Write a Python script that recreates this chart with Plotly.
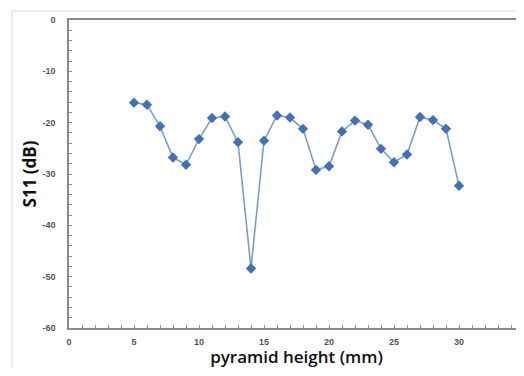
import plotly.graph_objects as go

heights = [5, 6, 7, 8, 9, 10, 11, 12, 13, 14, 15, 16, 17, 18, 19, 20, 21, 22, 23, 24, 25, 26, 27, 28, 29, 30]
s11 = [-16.1, -16.5, -20.7, -26.8, -28.2, -23.2, -19.1, -18.8, -23.8, -48.4, -23.5, -18.6, -19.0, -21.2,
       -29.2, -28.5, -21.7, -19.6, -20.4, -25.1, -27.7, -26.2, -18.9, -19.5, -21.2, -32.3]

x_ticks = [0, 5, 10, 15, 20, 25, 30, 35]
y_ticks = [0, -10, -20, -30, -40, -50, -60]

fig = go.Figure()
fig.add_trace(go.Scatter(
    x=heights, y=s11, mode="lines+markers",
    line=dict(color="#7d9dc7", width=1.6),
    marker=dict(symbol="diamond", size=8, color="#4072b6"),
    showlegend=False,
))

tickfont = dict(family="Liberation Sans", size=9, color="#555555", weight="bold")

fig.update_layout(
    width=516, height=360,
    margin=dict(l=61, r=0, t=12, b=40),
    paper_bgcolor="white", plot_bgcolor="white",
    xaxis=dict(
        range=[0, 35], tickvals=x_ticks, ticktext=[str(v) for v in x_ticks],
        showgrid=False, zeroline=False, automargin=False,
        showline=True, linecolor="#8a8a8a", linewidth=1.5, mirror=True,
        ticks="inside", ticklen=3, tickcolor="#8a8a8a",
        minor=dict(dtick=1, ticks="inside", ticklen=3, tickcolor="#8a8a8a", showgrid=False),
        tickfont=tickfont, ticklabelstandoff=4, ticklabeloverflow="allow",
        title=dict(text="pyramid height (mm)", standoff=12,
                   font=dict(family="Open Sans", size=17, color="#111111", weight=600)),
    ),
    yaxis=dict(
        range=[-60, 0], tickvals=y_ticks, ticktext=[str(v) for v in y_ticks],
        showgrid=False, zeroline=False, automargin=False,
        showline=True, linecolor="#8a8a8a", linewidth=1.5,
        ticks="inside", ticklen=3, tickcolor="#8a8a8a",
        minor=dict(dtick=2, ticks="inside", ticklen=3, tickcolor="#8a8a8a", showgrid=False),
        tickfont=tickfont, ticklabelstandoff=10,
        title=dict(text="S11 (dB)", standoff=1,
                   font=dict(family="Open Sans", size=17, color="#111111", weight=700)),
    ),
    shapes=[dict(type="rect", xref="paper", yref="paper",
                 x0=-0.1253, x1=0.9978, y0=-0.3, y1=1.0292,
                 line=dict(color="#d9d9d9", width=1), layer="below")],
)

fig.write_html("out.html")
